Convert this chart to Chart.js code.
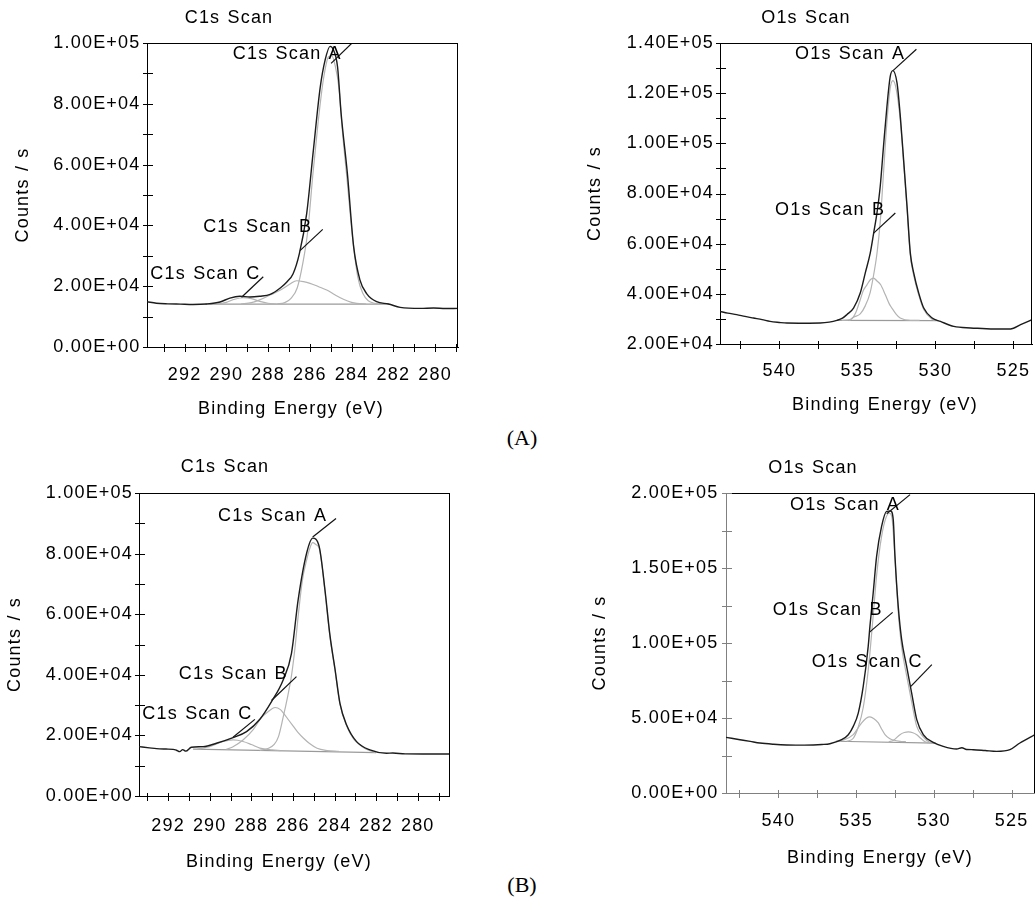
<!DOCTYPE html>
<html>
<head>
<meta charset="utf-8">
<script src="https://cdn.jsdelivr.net/npm/chart.js@4/dist/chart.umd.min.js"></script>
<style>
  html, body { margin: 0; padding: 0; background: #fff; overflow: hidden; width: 1035px; height: 899px; }
  canvas { position: absolute; }
  .tag { position: absolute; font-family: "Liberation Serif", "Times New Roman", serif; font-size: 22px; color: #000; transform: translate(-50%, -50%); white-space: nowrap; }
</style>
</head>
<body>
<canvas id="pA1" width="466" height="424" style="left:0px;top:0px"></canvas>
<canvas id="pA2" width="455" height="424" style="left:580px;top:0px"></canvas>
<canvas id="pB1" width="450" height="440" style="left:0px;top:440px"></canvas>
<canvas id="pB2" width="444" height="440" style="left:591px;top:440px"></canvas>
<div class="tag" style="left:522px;top:438px">(A)</div>
<div class="tag" style="left:522px;top:885px">(B)</div>
<script>
// ===================== DATA =====================
// Binding energy (eV), counts/s pairs

// ---- (A) C1s scan ----
const aC1sEnvelope = [[293.8,14900],[293.35,14400],[292.8,14200],[292.2,14100],[291.6,14000],[290.95,14150],[290.3,14800],[289.83,16100],[289.35,16700],[288.87,16450],[288.4,16700],[287.9,17300],[287.4,19500],[287.1,21400],[286.8,24100],[286.5,30700],[286.15,43900],[285.83,64700],[285.5,85500],[285.27,94300],[285.03,98900],[284.86,97600],[284.67,92100],[284.5,76800],[284.2,57100],[283.9,33000],[283.6,22100],[283.27,17500],[282.8,14900],[282.23,14150],[281.67,13050],[280.7,12700],[280.07,12830],[279.5,12650],[278.9,12700]];
const aC1sPeakA = [[287.6,14150],[287.2,14600],[286.9,16000],[286.6,19500],[286.35,27000],[286.1,38000],[285.85,57000],[285.6,74000],[285.35,88000],[285.1,95500],[284.95,95800],[284.8,93000],[284.6,85000],[284.45,72000],[284.2,54000],[283.95,36000],[283.7,23000],[283.45,17500],[283.2,15200],[282.9,14400],[282.5,14150]];
const aC1sPeakB = [[289.3,14150],[288.8,14600],[288.4,15500],[287.9,17100],[287.4,18750],[286.95,20700],[286.63,21800],[286.3,21500],[285.99,20950],[285.6,19900],[285.19,18750],[284.8,17200],[284.39,15700],[284.0,14700],[283.75,14370],[283.3,14150]];
const aC1sPeakC = [[290.4,14150],[290.0,14700],[289.6,15700],[289.2,16200],[288.8,15900],[288.4,15000],[288.0,14400],[287.6,14150]];
const aC1sBaseline = [[291.0,14100],[282.2,14100]];
const aC1sLeaderA = [[284.98,93300],[283.99,99900]];
const aC1sLeaderB = [[286.47,31700],[285.38,38700]];
const aC1sLeaderC = [[289.27,16350],[288.23,23100]];

// ---- (A) O1s scan ----
const aO1sEnvelope = [[543.8,32980],[543.3,32300],[542.73,31700],[542.2,31000],[541.66,30350],[541.1,29700],[540.59,29000],[540.0,28600],[539.52,28360],[538.4,28300],[537.38,28360],[536.8,28700],[536.31,29400],[535.95,30300],[535.67,31700],[535.24,34340],[534.81,40310],[534.49,48280],[534.17,56240],[533.95,64210],[533.74,72170],[533.53,82800],[533.32,98700],[533.1,114600],[532.89,126600],[532.72,129000],[532.45,124000],[532.24,110650],[532.03,93400],[531.81,74800],[531.6,56240],[531.38,48280],[531.06,40300],[530.74,34340],[530.2,30350],[529.67,29000],[528.81,27000],[527.74,26370],[527.0,26200],[526.24,25970],[525.17,25970],[524.53,27700],[523.8,29700]];
const aO1sPeakA = [[535.5,29400],[535.24,30700],[534.81,32000],[534.49,35200],[534.17,40600],[533.95,47600],[533.74,56000],[533.53,68600],[533.32,88100],[533.1,108500],[532.89,122000],[532.72,125000],[532.5,121500],[532.24,109000],[532.03,92500],[531.81,74000],[531.6,55500],[531.38,47300],[531.06,39500],[530.74,33800],[530.2,29900],[529.9,29400]];
const aO1sPeakB = [[536.0,29400],[535.45,29700],[535.1,32500],[534.81,37650],[534.6,41500],[534.38,43600],[534.15,45700],[533.95,46300],[533.75,45200],[533.5,43600],[533.2,39600],[532.95,36000],[532.78,34300],[532.5,31800],[532.25,30350],[531.6,29400],[531.0,29400]];
const aO1sBaseline = [[536.3,29400],[529.8,29300]];
const aO1sLeaderA = [[532.71,129000],[531.21,137500]];
const aO1sLeaderB = [[533.95,64200],[532.56,72200]];

// ---- (B) C1s scan ----
const bC1sEnvelope = [[293.4,16300],[292.9,15900],[292.56,15630],[292.1,15500],[291.76,15400],[291.6,15100],[291.44,14650],[291.3,15300],[291.15,14800],[290.88,16100],[290.32,16300],[289.68,17400],[288.88,19270],[288.23,21250],[287.59,25330],[287.03,31150],[286.47,38300],[286.07,47100],[285.75,64750],[285.34,80200],[285.05,85100],[284.74,82400],[284.46,68000],[284.22,53000],[283.98,42000],[283.74,30600],[283.42,23450],[282.94,17950],[282.3,15200],[281.5,14100],[281.2,14200],[280.6,13900],[279.5,13880],[278.45,13880]];
const bC1sPeakA = [[287.6,15000],[287.2,15700],[286.9,17000],[286.7,19500],[286.47,26000],[286.25,33000],[286.07,39700],[285.9,49000],[285.75,59250],[285.55,71000],[285.34,77900],[285.2,81500],[285.05,83600],[284.9,83000],[284.74,81800],[284.6,76000],[284.46,67500],[284.22,52500],[283.98,41700],[283.74,30300],[283.42,23200],[283.1,19000],[282.94,17800],[282.5,15500],[282.0,14300]];
const bC1sPeakB = [[289.2,15400],[288.9,16200],[288.4,18500],[287.9,22000],[287.5,26000],[287.2,27800],[286.86,29200],[286.6,28500],[286.45,27300],[286.2,25000],[285.97,22900],[285.75,20900],[285.49,19050],[285.2,17300],[284.84,15750],[284.36,15000],[283.8,14700]];
const bC1sPeakC = [[290.6,15500],[290.0,16300],[289.4,17900],[288.88,18500],[288.4,18000],[288.0,17000],[287.59,15800],[287.0,15200],[286.6,15000]];
const bC1sBaseline = [[290.8,15500],[282.0,14300]];
const bC1sLeaderA = [[285.05,85450],[283.93,91600]];
const bC1sLeaderB = [[287.03,31500],[285.83,39400]];
const bC1sLeaderC = [[288.88,19400],[287.83,25300]];

// ---- (B) O1s scan ----
const bO1sEnvelope = [[543.36,37070],[542.46,35530],[541.8,34400],[541.18,33330],[540.3,32500],[539.46,32000],[538.6,31900],[537.75,32000],[537.2,32300],[536.68,32870],[535.93,35530],[535.5,38870],[535.18,44400],[534.86,53300],[534.54,71070],[534.22,97730],[534.11,111070],[533.9,133330],[533.68,157730],[533.36,177730],[533.04,187730],[532.78,188000],[532.61,182200],[532.5,157700],[532.29,124400],[532.07,102200],[531.75,84400],[531.43,66700],[531.1,48900],[530.68,38870],[530.04,33730],[529.4,31070],[528.54,29330],[528.2,30200],[527.9,29000],[527.47,28870],[526.7,28300],[525.97,27730],[525.11,28870],[524.47,33330],[523.5,38870]];
const bO1sPeakA = [[535.6,34400],[535.18,36500],[534.86,44000],[534.54,57000],[534.22,81800],[533.9,118200],[533.68,145100],[533.36,171100],[533.04,184600],[532.85,186500],[532.7,184000],[532.55,165000],[532.29,121100],[532.07,97400],[531.75,78300],[531.43,60900],[531.1,44400],[530.68,37500],[530.3,34000],[529.9,33300]];
const bO1sPeakB = [[536.3,34500],[535.8,35300],[535.18,38900],[534.86,43500],[534.64,46700],[534.35,49800],[534.11,50700],[533.85,49500],[533.57,46700],[533.35,42500],[533.14,38900],[532.85,36300],[532.61,35300],[532.18,34400],[531.8,34200]];
const bO1sPeakC = [[532.9,34300],[532.61,35000],[532.18,38900],[531.9,40300],[531.64,40700],[531.35,40200],[531.1,38900],[530.85,36500],[530.57,34200],[530.2,33300],[529.9,33200]];
const bO1sBaseline = [[536.3,34500],[529.9,33200]];
const bO1sLeaderA = [[533.03,186200],[531.53,198900]];
const bO1sLeaderB = [[534.15,107070],[532.65,120400]];
const bO1sLeaderC = [[531.48,71070],[530.13,85530]];

// ---- peak label anchors (text left edge, vertical centre) ----
const aC1sLabels = [['C1s Scan A',289.69,96500],['C1s Scan B',291.11,39600],['C1s Scan C',293.64,24000]];
const aO1sLabels = [['O1s Scan A',538.99,135700],['O1s Scan B',540.27,73400]];
const bC1sLabels = [['C1s Scan A',289.6,92300],['C1s Scan B',291.49,40400],['C1s Scan C',293.24,27000]];
const bO1sLabels = [['O1s Scan A',539.25,191870],['O1s Scan B',540.36,122000],['O1s Scan C',537.85,87200]];

// ---- ticks ----
const c1sXTicks  = [279,280,281,282,283,284,285,286,287,288,289,290,291,292,293];
const c1sXLabels = ['','280','','282','','284','','286','','288','','290','','292',''];
const o1sXTicks  = [525,527.5,530,532.5,535,537.5,540,542.5];
const o1sXLabels = ['525','','530','','535','','540',''];
const c1sYTicks  = [0,10000,20000,30000,40000,50000,60000,70000,80000,90000,100000];
const c1sYLabels = ['0.00E+00','','2.00E+04','','4.00E+04','','6.00E+04','','8.00E+04','','1.00E+05'];
const aO1sYTicks  = [20000,30000,40000,50000,60000,70000,80000,90000,100000,110000,120000,130000,140000];
const aO1sYLabels = ['2.00E+04','','4.00E+04','','6.00E+04','','8.00E+04','','1.00E+05','','1.20E+05','','1.40E+05'];
const bO1sYTicks  = [0,25000,50000,75000,100000,125000,150000,175000,200000];
const bO1sYLabels = ['0.00E+00','','5.00E+04','','1.00E+05','','1.50E+05','','2.00E+05'];

// ===================== RENDERING =====================
const FONT = '"Liberation Sans", Arial, Helvetica, sans-serif';
const FS = 18;
const ENV = '#1c1c1c', COMP = '#b3b3b3', BASE = '#9a9a9a', LEAD = '#111';

function pts(a) { return a.map(p => ({ x: p[0], y: p[1] })); }
function line(data, color, width, smooth) {
  return { data: pts(data), borderColor: color, borderWidth: width, pointRadius: 0, fill: false,
           cubicInterpolationMode: smooth ? 'monotone' : 'default', tension: 0 };
}

function makePanel(id, p) {
  const canvas = document.getElementById(id);
  const deco = {
    id: 'deco',
    beforeDraw(chart) {
      chart.ctx.letterSpacing = '1.2px';
      chart.ctx.wordSpacing = '1px';
    },
    afterDraw(chart) {
      const { ctx, chartArea: a, scales: { x, y } } = chart;
      ctx.save();
      ctx.lineWidth = 1;
      // top & right frame
      ctx.strokeStyle = '#000';
      ctx.beginPath();
      ctx.moveTo(a.left, Math.round(a.top) + 0.5); ctx.lineTo(a.right, Math.round(a.top) + 0.5);
      ctx.moveTo(Math.round(a.right) - 0.5, a.top); ctx.lineTo(Math.round(a.right) - 0.5, a.bottom);
      ctx.stroke();
      // tick marks crossing the axes
      ctx.strokeStyle = p.axisColor;
      ctx.beginPath();
      y.ticks.forEach(t => {
        const py = Math.round(y.getPixelForValue(t.value)) + 0.5;
        ctx.moveTo(a.left - 4, py); ctx.lineTo(a.left + 6, py);
      });
      x.ticks.forEach(t => {
        const px = Math.round(x.getPixelForValue(t.value)) + 0.5;
        ctx.moveTo(px, a.bottom - 3); ctx.lineTo(px, a.bottom + 5);
      });
      ctx.stroke();
      // peak labels
      ctx.fillStyle = '#000';
      ctx.font = FS + 'px ' + FONT;
      ctx.textAlign = 'left';
      ctx.textBaseline = 'middle';
      p.labels.forEach(l => ctx.fillText(l[0], x.getPixelForValue(l[1]), y.getPixelForValue(l[2])));
      // x axis title
      ctx.textAlign = 'center';
      ctx.fillText('Binding Energy (eV)', p.xTitleX, p.xTitleY);
      ctx.restore();
    }
  };
  return new Chart(canvas, {
    type: 'line',
    data: { datasets: p.datasets },
    options: {
      responsive: false, animation: false, events: [],
      layout: { padding: { left: 0, right: p.padRight, top: 0, bottom: 0 } },
      plugins: {
        legend: { display: false }, tooltip: { enabled: false },
        title: { display: true, text: p.title, color: '#000',
                 font: { family: FONT, size: FS, weight: 'normal', lineHeight: 1.2 },
                 padding: { top: p.titleTop, bottom: p.titleBottom } }
      },
      scales: {
        x: {
          type: 'linear', reverse: true, min: p.xMin, max: p.xMax,
          afterFit(s) { s.height = p.xAxisH; },
          afterBuildTicks(s) { s.ticks = p.xTicks.map(v => ({ value: v })); },
          grid: { display: false, drawTicks: false },
          border: { display: true, color: p.axisColor, width: 1 },
          ticks: { autoSkip: false, maxRotation: 0, minRotation: 0, padding: p.xTickPad, color: '#000',
                   font: { family: FONT, size: FS }, callback: (v, i) => p.xLabels[i] }
        },
        y: {
          type: 'linear', min: p.yMin, max: p.yMax,
          afterFit(s) { s.width = p.yAxisW; },
          afterBuildTicks(s) { s.ticks = p.yTicks.map(v => ({ value: v })); },
          grid: { display: false, drawTicks: false },
          border: { display: true, color: p.axisColor, width: 1 },
          ticks: { autoSkip: false, padding: p.yTickPad, color: '#000',
                   font: { family: FONT, size: FS }, callback: (v, i) => p.yLabels[i] },
          title: { display: true, text: 'Counts / s', color: '#000',
                   font: { family: FONT, size: FS, lineHeight: 1 }, padding: { top: p.yTitlePad, bottom: 0 } }
        }
      }
    },
    plugins: [deco]
  });
}

makePanel('pA1', {
  title: 'C1s Scan', titleTop: 7.2, titleBottom: 14.2,
  xMin: 278.9, xMax: 293.8, yMin: 0, yMax: 100000,
  xTicks: c1sXTicks, xLabels: c1sXLabels, yTicks: c1sYTicks, yLabels: c1sYLabels,
  yAxisW: 147, xAxisH: 77, padRight: 8, xTickPad: 17.2, yTickPad: 6.5, yTitlePad: 14,
  xTitleX: 291, xTitleY: 409, axisColor: '#000', labels: aC1sLabels,
  datasets: [
    line(aC1sEnvelope, ENV, 1.4, true),
    line(aC1sLeaderA, LEAD, 1.2, false), line(aC1sLeaderB, LEAD, 1.2, false), line(aC1sLeaderC, LEAD, 1.2, false),
    line(aC1sPeakA, COMP, 1.2, true), line(aC1sPeakB, COMP, 1.2, true), line(aC1sPeakC, COMP, 1.2, true),
    line(aC1sBaseline, BASE, 1.2, false)
  ]
});

makePanel('pA2', {
  title: 'O1s Scan', titleTop: 7.2, titleBottom: 14.2,
  xMin: 523.8, xMax: 543.8, yMin: 20000, yMax: 140000,
  xTicks: o1sXTicks, xLabels: o1sXLabels, yTicks: aO1sYTicks, yLabels: aO1sYLabels,
  yAxisW: 140, xAxisH: 80, padRight: 3, xTickPad: 16.2, yTickPad: 6, yTitlePad: 6,
  xTitleX: 885 - 580, xTitleY: 405, axisColor: '#000', labels: aO1sLabels,
  datasets: [
    line(aO1sEnvelope, ENV, 1.4, true),
    line(aO1sLeaderA, LEAD, 1.2, false), line(aO1sLeaderB, LEAD, 1.2, false),
    line(aO1sPeakA, COMP, 1.2, true), line(aO1sPeakB, COMP, 1.2, true),
    line(aO1sBaseline, BASE, 1.2, false)
  ]
});

makePanel('pB1', {
  title: 'C1s Scan', titleTop: 16.7, titleBottom: 14.7,
  xMin: 278.45, xMax: 293.4, yMin: 0, yMax: 100000,
  xTicks: c1sXTicks, xLabels: c1sXLabels, yTicks: c1sYTicks, yLabels: c1sYLabels,
  yAxisW: 139, xAxisH: 84, padRight: 0, xTickPad: 19.2, yTickPad: 6, yTitlePad: 6,
  xTitleX: 279, xTitleY: 862 - 440, axisColor: '#000', labels: bC1sLabels,
  datasets: [
    line(bC1sEnvelope, ENV, 1.4, true),
    line(bC1sLeaderA, LEAD, 1.2, false), line(bC1sLeaderB, LEAD, 1.2, false), line(bC1sLeaderC, LEAD, 1.2, false),
    line(bC1sPeakA, COMP, 1.2, true), line(bC1sPeakB, COMP, 1.2, true), line(bC1sPeakC, COMP, 1.2, true),
    line(bC1sBaseline, BASE, 1.2, false)
  ]
});

makePanel('pB2', {
  title: 'O1s Scan', titleTop: 17.5, titleBottom: 13.9,
  xMin: 523.5, xMax: 543.36, yMin: 0, yMax: 200000,
  xTicks: o1sXTicks, xLabels: o1sXLabels, yTicks: bO1sYTicks, yLabels: bO1sYLabels,
  yAxisW: 135, xAxisH: 87, padRight: 0, xTickPad: 17.6, yTickPad: 7.5, yTitlePad: 0,
  xTitleX: 880 - 591, xTitleY: 858 - 440, axisColor: '#808080', labels: bO1sLabels,
  datasets: [
    line(bO1sEnvelope, ENV, 1.4, true),
    line(bO1sLeaderA, LEAD, 1.2, false), line(bO1sLeaderB, LEAD, 1.2, false), line(bO1sLeaderC, LEAD, 1.2, false),
    line(bO1sPeakA, COMP, 1.2, true), line(bO1sPeakB, COMP, 1.2, true), line(bO1sPeakC, COMP, 1.2, true),
    line(bO1sBaseline, BASE, 1.2, false)
  ]
});
</script>
</body>
</html>
